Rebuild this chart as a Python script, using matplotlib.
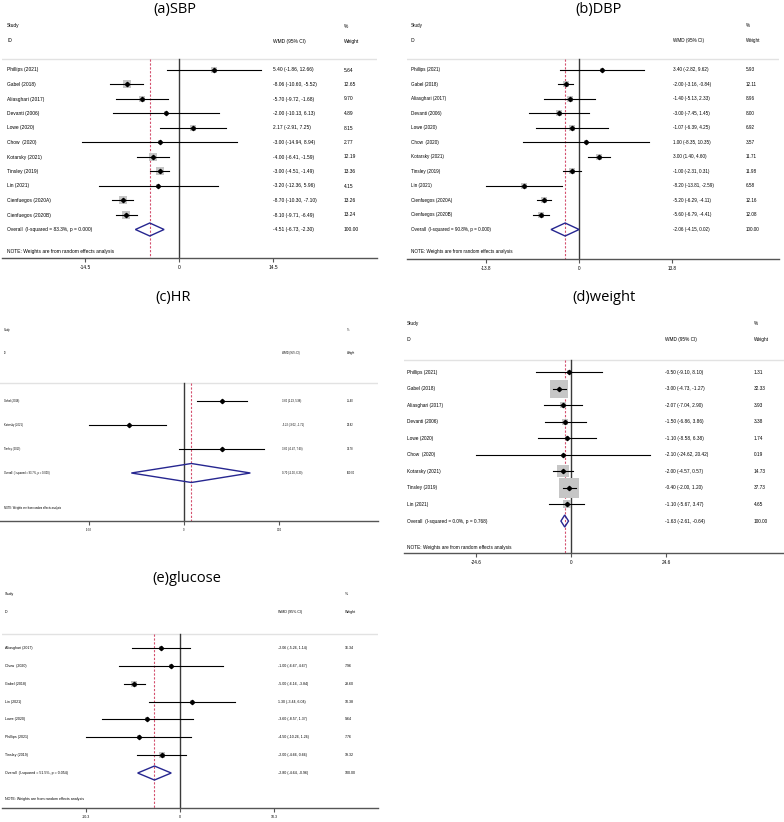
import matplotlib
matplotlib.use('Agg')
import matplotlib.pyplot as plt
from matplotlib.patches import Polygon

plt.rcParams['font.family'] = ['Liberation Sans', 'DejaVu Sans']

# ---------------- DATA ----------------
sbp_study = ["Phillips (2021)", "Gabel (2018)", "Aliasghari (2017)", "Devanti (2006)",
             "Lowe (2020)", "Chow  (2020)", "Kotarsky (2021)", "Tinsley (2019)",
             "Lin (2021)", "Cienfuegos (2020A)", "Cienfuegos (2020B)"]
sbp_est = [5.40, -8.06, -5.70, -2.00, 2.17, -3.00, -4.00, -3.00, -3.20, -8.70, -8.10]
sbp_lo = [-1.86, -10.60, -9.72, -10.13, -2.91, -14.94, -6.41, -4.51, -12.36, -10.30, -9.71]
sbp_hi = [12.66, -5.52, -1.68, 6.13, 7.25, 8.94, -1.59, -1.49, 5.96, -7.10, -6.49]
sbp_w = [5.64, 12.65, 9.70, 4.89, 8.15, 2.77, 12.19, 13.36, 4.15, 13.26, 13.24]
sbp_overall = [-4.51, -6.73, -2.30]
sbp_i2 = "Overall  (I-squared = 83.3%, p = 0.000)"

dbp_study = ["Phillips (2021)", "Gabel (2018)", "Aliasghari (2017)", "Devanti (2006)",
             "Lowe (2020)", "Chow  (2020)", "Kotarsky (2021)", "Tinsley (2019)",
             "Lin (2021)", "Cienfuegos (2020A)", "Cienfuegos (2020B)"]
dbp_est = [3.40, -2.00, -1.40, -3.00, -1.07, 1.00, 3.00, -1.00, -8.20, -5.20, -5.60]
dbp_lo = [-2.82, -3.16, -5.13, -7.45, -6.39, -8.35, 1.40, -2.31, -13.81, -6.29, -6.79]
dbp_hi = [9.62, -0.84, 2.33, 1.45, 4.25, 10.35, 4.60, 0.31, -2.59, -4.11, -4.41]
dbp_w = [5.93, 12.11, 8.96, 8.00, 6.92, 3.57, 11.71, 11.98, 6.58, 12.16, 12.08]
dbp_overall = [-2.06, -4.15, 0.02]
dbp_i2 = "Overall  (I-squared = 90.8%, p = 0.000)"

hr_study = ["Gabel (2018)", "Kotarsky (2021)", "Tinsley (2019)"]
hr_est = [3.60, -5.22, 3.60]
hr_lo = [1.23, -9.02, -0.47]
hr_hi = [5.98, -1.71, 7.60]
hr_w = [35.40, 32.82, 31.78]
hr_overall = [0.70, -5.00, 6.30]
hr_i2 = "Overall  (I-squared = 93.7%, p = 0.000)"

wt_study = ["Phillips (2021)", "Gabel (2018)", "Aliasghari (2017)", "Devanti (2006)",
            "Lowe (2020)", "Chow  (2020)", "Kotarsky (2021)", "Tinsley (2019)", "Lin (2021)"]
wt_est = [-0.50, -3.00, -2.07, -1.50, -1.10, -2.10, -2.00, -0.40, -1.10]
wt_lo = [-9.10, -4.73, -7.04, -6.86, -8.58, -24.62, -4.57, -2.00, -5.67]
wt_hi = [8.10, -1.27, 2.90, 3.86, 6.38, 20.42, 0.57, 1.20, 3.47]
wt_w = [1.31, 32.33, 3.93, 3.38, 1.74, 0.19, 14.73, 37.73, 4.65]
wt_overall = [-1.63, -2.61, -0.64]
wt_i2 = "Overall  (I-squared = 0.0%, p = 0.768)"

glu_study = ["Aliasghari (2017)", "Chow  (2020)", "Gabel (2018)", "Lin (2021)",
             "Lowe (2020)", "Phillips (2021)", "Tinsley (2019)"]
glu_est = [-2.06, -1.00, -5.00, 1.30, -3.60, -4.50, -2.00]
glu_lo = [-5.26, -6.67, -6.16, -3.44, -8.57, -10.26, -4.66]
glu_hi = [1.14, 4.67, -3.84, 6.04, 1.37, 1.26, 0.66]
glu_w = [16.34, 7.96, 28.60, 10.38, 9.64, 7.76, 19.32]
glu_overall = [-2.80, -4.64, -0.96]
glu_i2 = "Overall  (I-squared = 51.5%, p = 0.054)"

# ---------------- LAYOUT (pixels, top origin) ----------------
W, H = 784, 822
fig = plt.figure(figsize=(W / 100, H / 100), dpi=100)

panels = [
    dict(title="(a)SBP", tx=175, ty=9, left=2, right=377, zero=179, tickpx=273, tick=14.5,
         study_y=26, id_y=41, line_y=59, row0=70, step=14.5, note_y=252, axis_y=258,
         lab_x=7, wmd_x=273, wt_x=344, fs=3.5, k=2.2, dh=13,
         data=(sbp_study, sbp_est, sbp_lo, sbp_hi, sbp_w, sbp_overall, sbp_i2)),
    dict(title="(b)DBP", tx=599, ty=9, left=407, right=779, zero=579, tickpx=672, tick=13.8,
         study_y=26, id_y=41, line_y=59, row0=70, step=14.5, note_y=252, axis_y=259,
         lab_x=411, wmd_x=673, wt_x=746, fs=3.3, k=2.0, dh=13,
         data=(dbp_study, dbp_est, dbp_lo, dbp_hi, dbp_w, dbp_overall, dbp_i2)),
    dict(title="(c)HR", tx=173, ty=297, left=0, right=378, zero=184, tickpx=279, tick=9.02,
         study_y=330, id_y=353, line_y=383, row0=401, step=24, note_y=508, axis_y=521,
         lab_x=4, wmd_x=282, wt_x=347, fs=1.9, k=0.4, dh=19,
         data=(hr_study, hr_est, hr_lo, hr_hi, hr_w, hr_overall, hr_i2)),
    dict(title="(d)weight", tx=604, ty=297, left=404, right=784, zero=571, tickpx=666, tick=24.6,
         study_y=323, id_y=339, line_y=360, row0=372, step=16.56, note_y=547, axis_y=553,
         lab_x=407, wmd_x=665, wt_x=754, fs=3.4, k=3.26, dh=12,
         data=(wt_study, wt_est, wt_lo, wt_hi, wt_w, wt_overall, wt_i2)),
    dict(title="(e)glucose", tx=187, ty=579, left=2, right=378, zero=180, tickpx=274, tick=10.3,
         study_y=594, id_y=612, line_y=634, row0=648, step=17.86, note_y=799, axis_y=808,
         lab_x=5, wmd_x=278, wt_x=345, fs=2.6, k=1.2, dh=14,
         data=(glu_study, glu_est, glu_lo, glu_hi, glu_w, glu_overall, glu_i2)),
]

for p in panels:
    study, est, lo, hi, wts, overall, i2 = p["data"]
    top = p["study_y"] - 10
    ax = fig.add_axes([p["left"] / W, 1 - p["axis_y"] / H,
                       (p["right"] - p["left"]) / W, (p["axis_y"] - top) / H])
    scale = p["tick"] / (p["tickpx"] - p["zero"])

    def px2x(px):
        return (px - p["zero"]) * scale

    ax.set_xlim(px2x(p["left"]), px2x(p["right"]))
    ax.set_ylim(p["axis_y"], top)
    fs = p["fs"]

    # header
    ax.text(px2x(p["lab_x"]), p["study_y"], "Study", fontsize=fs, va="center")
    ax.text(px2x(p["lab_x"]), p["id_y"], "ID", fontsize=fs, va="center")
    ax.text(px2x(p["wt_x"]), p["study_y"], "%", fontsize=fs, va="center")
    ax.text(px2x(p["wmd_x"]), p["id_y"], "WMD (95% CI)", fontsize=fs, va="center")
    ax.text(px2x(p["wt_x"]), p["id_y"], "Weight", fontsize=fs, va="center")
    ax.axhline(p["line_y"], color="#e2e2e2", lw=1)

    # reference lines
    ax.plot([0, 0], [p["line_y"], p["axis_y"]], color="#3a3a3a", lw=1)
    ax.plot([overall[0], overall[0]], [p["line_y"], p["axis_y"]], color="#d4506e",
            lw=0.8, dashes=(2, 1.5))

    # studies
    for i in range(len(study)):
        y = p["row0"] + i * p["step"]
        ax.scatter(est[i], y, s=(p["k"] * 0.72) ** 2 * wts[i], marker="s",
                   color="#c6c6c6", linewidths=0, zorder=2)
        ax.plot([lo[i], hi[i]], [y, y], color="black", lw=0.8, zorder=3)
        ax.plot(est[i], y, marker="D", color="black", ms=2.2, zorder=4)
        ax.text(px2x(p["lab_x"]), y, study[i], fontsize=fs, va="center")
        ax.text(px2x(p["wmd_x"]), y, f"{est[i]:.2f} ({lo[i]:.2f}, {hi[i]:.2f})",
                fontsize=fs, va="center")
        ax.text(px2x(p["wt_x"]), y, f"{wts[i]:.2f}", fontsize=fs, va="center")

    # overall diamond
    y = p["row0"] + len(study) * p["step"]
    h = p["dh"] / 2
    ax.add_patch(Polygon([(overall[1], y), (overall[0], y - h), (overall[2], y),
                          (overall[0], y + h)], closed=True, fill=False,
                         edgecolor="#262690", lw=1, zorder=5))
    ax.text(px2x(p["lab_x"]), y, i2, fontsize=fs, va="center")
    ax.text(px2x(p["wmd_x"]), y, f"{overall[0]:.2f} ({overall[1]:.2f}, {overall[2]:.2f})",
            fontsize=fs, va="center")
    ax.text(px2x(p["wt_x"]), y, "100.00", fontsize=fs, va="center")
    ax.text(px2x(p["lab_x"]), p["note_y"], "NOTE: Weights are from random effects analysis",
            fontsize=fs, va="center")

    # axis
    for s in ["top", "right", "left"]:
        ax.spines[s].set_visible(False)
    ax.spines["bottom"].set_color("#555555")
    ax.spines["bottom"].set_linewidth(1)
    ax.set_yticks([])
    ax.set_xticks([-p["tick"], 0, p["tick"]])
    ax.set_xticklabels([f"-{p['tick']}", "0", f"{p['tick']}"])
    ax.tick_params(axis="x", length=3, width=0.8, color="#555555", labelsize=fs, pad=2)
    ax.patch.set_alpha(0)

    fig.text(p["tx"] / W, 1 - p["ty"] / H, p["title"], ha="center", va="center",
             fontsize=10.5, family="Open Sans")

fig.savefig("out.png", dpi=100)
